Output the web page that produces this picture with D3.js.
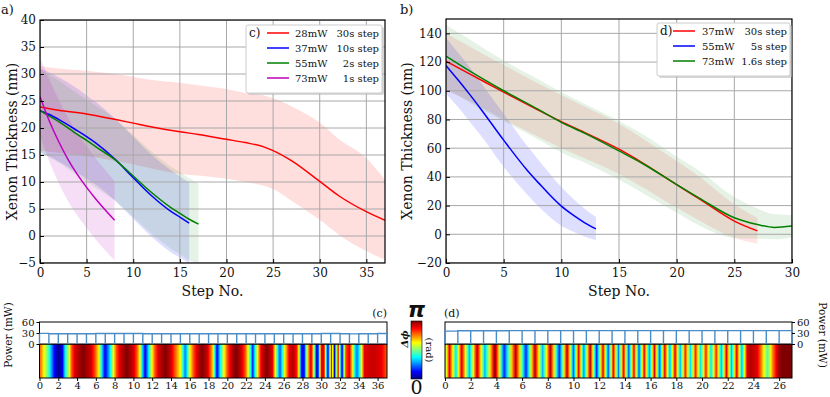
<!DOCTYPE html>
<html>
<head>
<meta charset="utf-8">
<script src="https://cdn.jsdelivr.net/npm/d3@7"></script>
<style>
  body { margin: 0; background: #fff; }
  text { font-family: "DejaVu Serif", serif; fill: #111; }
</style>
</head>
<body>
<svg width="830" height="397"></svg>
<script>
// ---------- panel a) data ----------
var aRedX = [0, 2, 5, 8, 10, 12, 15, 17, 20, 22, 24, 25, 27, 30, 32, 35, 37];
var aRedY = [23.9, 23.3, 22.6, 21.6, 20.9, 20.2, 19.3, 18.8, 17.9, 17.3, 16.5, 15.8, 13.9, 10.1, 7.5, 4.5, 2.9];
var aRedHi = [31.5, 31.0, 30.6, 30.0, 29.5, 28.9, 28.4, 27.9, 27.2, 26.5, 26.0, 25.5, 24.0, 21.0, 18.0, 14.4, 10.4];
var aRedLo = [15.8, 15.4, 14.8, 13.9, 13.3, 12.5, 11.5, 11.2, 10.6, 10.0, 9.3, 8.7, 6.5, 3.0, 0.3, -2.8, -4.4];

var aBlueX = [0, 1, 2, 4, 5, 6, 8, 10, 12, 14, 15, 16];
var aBlueY = [23.2, 22.5, 21.6, 19.5, 18.4, 17.2, 14.3, 10.8, 7.4, 4.6, 3.5, 2.4];
var aBlueHi = [31.0, 30.3, 29.4, 27.3, 26.0, 24.8, 21.8, 18.4, 15.0, 12.2, 11.0, 9.9];
var aBlueLo = [15.4, 14.7, 13.8, 11.7, 10.6, 9.5, 6.6, 3.2, -0.2, -3.0, -4.0, -5.0];

var aGreenX = [0, 1, 2, 4, 5, 6, 8, 10, 12, 14, 15, 16, 17];
var aGreenY = [23.2, 22.2, 21.2, 18.8, 17.7, 16.5, 14.2, 11.1, 8.0, 5.3, 4.2, 3.1, 2.2];
var aGreenHi = [30.8, 29.8, 28.8, 26.4, 25.3, 24.1, 21.8, 18.7, 15.6, 12.9, 11.8, 10.7, 9.7];
var aGreenLo = [15.6, 14.6, 13.6, 11.2, 10.1, 8.9, 6.6, 3.5, 0.4, -2.3, -3.4, -4.5, -5.0];

var aMagX = [0, 1, 2, 3, 4, 5, 6, 7, 8];
var aMagY = [25.8, 21.3, 17.5, 14.2, 11.4, 9.0, 6.8, 4.8, 2.9];
var aMagHi = [33.0, 29.0, 25.3, 22.0, 19.0, 16.6, 14.3, 12.2, 10.2];
var aMagLo = [18.5, 13.8, 9.8, 6.5, 3.8, 1.5, -0.7, -2.7, -4.5];

var aPowerLabels = ['28mW', '37mW', '55mW', '73mW'];
var aStepLabels = ['30s step', '10s step', '2s step', '1s step'];
var aXTicks = [0, 5, 10, 15, 20, 25, 30, 35];
var aYTicks = [-5, 0, 5, 10, 15, 20, 25, 30, 35, 40];

// ---------- panel b) data ----------
var bRedX = [0, 2, 5, 8, 10, 12, 15, 17, 20, 22, 25, 27];
var bRedY = [120.6, 112, 99, 86.5, 78.4, 71, 59.3, 50, 34.6, 24.5, 9.2, 2.4];
var bRedHi = [140, 131, 118, 105, 97, 89, 77, 67, 51, 40, 21, 11.5];
var bRedLo = [100, 93, 80, 68, 60, 53, 42, 33, 18.5, 9.5, -2.5, -6.5];

var bBlueX = [0, 1, 2, 3, 5, 7, 8, 10, 11, 12, 13];
var bBlueY = [117.6, 108, 98, 87.5, 65.6, 45, 36, 19.6, 13.5, 8.2, 3.8];
var bBlueHi = [137, 127, 117, 106, 84, 62, 52, 33, 25, 18, 12];
var bBlueLo = [98, 89, 79, 69, 47, 28, 19.5, 6, 2, -1.5, -4];

var bGreenX = [0, 2, 5, 8, 10, 12, 15, 17, 20, 22, 25, 27, 28.5, 30];
var bGreenY = [124.1, 114, 100, 87, 78, 70.5, 58.1, 49.5, 34.6, 25, 11.5, 6.8, 4.8, 5.7];
var bGreenHi = [146, 136, 121, 108, 99, 91, 79, 70, 54, 44, 26, 18, 14, 13.5];
var bGreenLo = [102, 92, 79, 66, 57, 50, 38, 29, 15, 6, -2.5, -3, -3.5, -2];

var bPowerLabels = ['37mW', '55mW', '73mW'];
var bStepLabels = ['30s step', '5s step', '1.6s step'];
var bXTicks = [0, 5, 10, 15, 20, 25, 30];
var bYTicks = [-20, 0, 20, 40, 60, 80, 100, 120, 140];

// ---------- panel (c) / (d) strips ----------
var cPower = [29, 28, 28, 28, 28, 28, 28.5, 28.5, 28.5, 28.5, 28.5, 28, 28, 28, 28, 28, 28, 28, 28, 28,
              28, 28, 28, 28, 28, 28, 28, 28, 28, 28, 28.5, 28.5, 28, 27.5, 28, 28, 28.5];
var dPower = [35, 36, 36, 36, 36, 36.5, 36.5, 36.5, 36.5, 36.5, 36.5, 36.5, 36.5, 36.5,
              36.5, 36.5, 36.5, 36.5, 36.5, 36.5, 36.5, 36.5, 36.5, 36.5, 36.5, 36.5, 36.5];
var powerTicks = [0, 30, 60];
var cXTicks = [0, 2, 4, 6, 8, 10, 12, 14, 16, 18, 20, 22, 24, 26, 28, 30, 32, 34, 36];
var dXTicks = [0, 2, 4, 6, 8, 10, 12, 14, 16, 18, 20, 22, 24, 26];

// phase (in units of pi) read along the step axis
var cPhaseStep = [0, 0.4, 0.94, 1.6, 2.0, 2.4, 2.7, 3.07, 3.43, 3.8, 4.67, 5.5, 5.9, 6.27, 6.6, 6.98, 7.5, 7.87,
  8.2, 8.6, 9.3, 10.0, 10.36, 10.7, 10.9, 11.25, 11.6, 11.96, 12.3, 12.7, 13.4, 14.0, 14.4, 15.0, 15.3, 15.5,
  15.7, 16.0, 16.4, 16.8, 17.3, 17.9, 18.4, 18.7, 18.9, 19.2, 19.6, 20.0, 20.5, 21.0, 21.5, 21.9, 22.2, 22.5,
  22.7, 22.9, 23.2, 23.6, 24.2, 24.8, 25.1, 25.4, 25.6, 25.8, 26.1, 26.6, 27.0, 27.4, 27.6, 27.9, 28.2, 28.5,
  28.9, 29.2, 29.5, 29.7, 30.0, 30.3, 30.7, 31.1, 31.4, 31.8, 32.2, 32.6, 33.0, 33.3, 33.6, 33.8, 34.0, 34.3,
  34.6, 35.5, 36.4, 37.0];
var cPhaseVal = [0.8, 0.65, 0.45, 0.12, 0.02, 0.08, 0.35, 0.55, 0.8, 0.92, 1.0, 0.92, 0.8, 0.65, 0.38, 0.1, 0.35, 0.62,
  0.8, 0.92, 1.0, 0.92, 0.8, 0.62, 0.38, 0.1, 0.35, 0.62, 0.8, 0.92, 1.0, 0.92, 0.8, 0.62, 0.38, 0.25,
  0.35, 0.62, 0.8, 0.92, 1.0, 0.92, 0.7, 0.35, 0.1, 0.35, 0.6, 0.8, 0.95, 1.0, 0.92, 0.8, 0.62, 0.38,
  0.15, 0.35, 0.62, 0.9, 1.0, 0.9, 0.62, 0.35, 0.2, 0.35, 0.62, 0.9, 0.95, 0.85, 0.62, 0.1, 0.15, 0.62,
  0.92, 0.62, 0.08, 0.2, 0.9, 0.9, 0.05, 0.9, 0.05, 0.9, 0.05, 0.8, 0.9, 0.65, 0.35, 0.25, 0.35, 0.62,
  0.9, 0.93, 0.9, 0.78];

var dPhaseStep = [0, 0.35, 0.85, 1.3, 1.9, 2.5, 3.1, 3.9, 4.6, 5.5, 6.3, 7.0, 7.6, 8.2, 8.9, 9.5, 10.0, 10.4,
  10.8, 11.3, 11.8, 12.3, 12.7, 13.1, 13.5, 13.9, 14.3, 14.7, 15.1, 15.5, 15.9, 16.3, 16.7, 17.1, 17.5, 17.9,
  18.3, 18.7, 19.1, 19.5, 19.9, 20.3, 20.7, 21.1, 21.5, 21.9, 22.3, 22.7, 23.1, 23.5, 23.75, 24.3, 24.6, 25.1,
  25.5, 25.9, 26.2, 27.0];
var dPhaseVal = [0.45, 0.9, 0.35, 0.92, 0.3, 0.95, 0.3, 1.0, 0.15, 0.95, 0.15, 0.95, 0.3, 0.95, 0.15, 0.95, 0.2, 0.9,
  0.25, 0.95, 0.15, 0.9, 0.2, 0.9, 0.25, 0.9, 0.2, 0.9, 0.2, 0.9, 0.25, 0.9, 0.2, 0.9, 0.3, 0.9,
  0.3, 0.85, 0.35, 0.85, 0.35, 0.85, 0.35, 0.85, 0.3, 0.9, 0.3, 0.9, 0.3, 0.9, 0.95, 0.9, 0.75, 0.45,
  0.75, 0.95, 1.0, 1.0];

// ---------- drawing ----------
var svg = d3.select('svg');
var defs = svg.append('defs');

var jet = d3.scaleLinear()
  .domain([0, 0.125, 0.375, 0.625, 0.875, 1])
  .range(['#00007f', '#0000ff', '#00ffff', '#ffff00', '#ff0000', '#7f0000'])
  .clamp(true);

function mainPanel(p) {
  var x = d3.scaleLinear().domain(p.xDomain).range([p.left, p.right]);
  var y = d3.scaleLinear().domain(p.yDomain).range([p.bottom, p.top]);
  var g = svg.append('g');

  defs.append('clipPath').attr('id', p.id + '-clip')
    .append('rect').attr('x', p.left).attr('y', p.top)
    .attr('width', p.right - p.left).attr('height', p.bottom - p.top);
  var plot = g.append('g').attr('clip-path', 'url(#' + p.id + '-clip)');

  // spread bands
  p.series.forEach(function(s) {
    var area = d3.area()
      .x(function(d, i) { return x(s.x[i]); })
      .y0(function(d, i) { return y(s.lo[i]); })
      .y1(function(d, i) { return y(s.hi[i]); })
      .curve(d3.curveMonotoneX);
    plot.append('path').datum(s.x).attr('d', area)
      .attr('fill', s.color).attr('fill-opacity', s.alpha);
  });

  // grid
  plot.selectAll('.gx').data(p.xTicks).enter().append('line')
    .attr('x1', x).attr('x2', x).attr('y1', p.top).attr('y2', p.bottom)
    .attr('stroke', '#a8a8a8').attr('stroke-width', 1);
  plot.selectAll('.gy').data(p.yTicks).enter().append('line')
    .attr('y1', y).attr('y2', y).attr('x1', p.left).attr('x2', p.right)
    .attr('stroke', '#a8a8a8').attr('stroke-width', 1);

  // mean lines
  p.series.forEach(function(s) {
    var line = d3.line()
      .x(function(d, i) { return x(s.x[i]); })
      .y(function(d) { return y(d); })
      .curve(d3.curveMonotoneX);
    plot.append('path').datum(s.y).attr('d', line)
      .attr('fill', 'none').attr('stroke', s.color).attr('stroke-width', 1.5);
  });

  // axes
  var xa = g.append('g').attr('transform', 'translate(0,' + p.bottom + ')')
    .call(d3.axisBottom(x).tickValues(p.xTicks).tickSize(-4).tickPadding(5).tickFormat(d3.format('d')));
  var ya = g.append('g').attr('transform', 'translate(' + p.left + ',0)')
    .call(d3.axisLeft(y).tickValues(p.yTicks).tickSize(-4).tickPadding(4).tickFormat(d3.format('d')));
  [xa, ya].forEach(function(a) {
    a.select('.domain').remove();
    a.selectAll('text').style('font-family', '"DejaVu Serif", serif').style('font-size', '12px').attr('fill', '#111');
  });

  g.append('rect').attr('x', p.left).attr('y', p.top)
    .attr('width', p.right - p.left).attr('height', p.bottom - p.top)
    .attr('fill', 'none').attr('stroke', '#000').attr('stroke-width', 1.2);

  g.append('text').attr('transform', 'translate(' + p.ylabX + ',' + ((p.top + p.bottom) / 2) + ') rotate(-90)')
    .attr('text-anchor', 'middle').attr('dy', '0.35em').style('font-size', '14px').text('Xenon Thickness (nm)');
  g.append('text').attr('x', (p.left + p.right) / 2).attr('y', 296)
    .attr('text-anchor', 'middle').style('font-size', '14px').text('Step No.');
  g.append('text').attr('x', p.tagX).attr('y', 14).style('font-size', '13px').text(p.tag);

  // legend
  var lg = g.append('g').attr('transform', 'translate(' + p.leg.x + ',' + p.leg.y + ')');
  var lh = 8 + p.series.length * 15;
  lg.append('rect').attr('x', 2).attr('y', 2).attr('width', p.leg.w).attr('height', lh)
    .attr('rx', 2).attr('fill', '#bbb').attr('opacity', 0.6);
  lg.append('rect').attr('width', p.leg.w).attr('height', lh).attr('rx', 2)
    .attr('fill', '#fff').attr('stroke', '#ccc');
  lg.append('text').attr('x', 3).attr('y', 12).style('font-size', '12px').text(p.leg.tag);
  p.series.forEach(function(s, i) {
    var yy = 8 + i * 15;
    lg.append('line').attr('x1', p.leg.lx).attr('x2', p.leg.lx + 22).attr('y1', yy).attr('y2', yy)
      .attr('stroke', s.color).attr('stroke-width', 1.5);
    lg.append('text').attr('x', p.leg.tx).attr('y', yy + 4).style('font-size', '10px').text(s.power);
    lg.append('text').attr('x', p.leg.w - 3).attr('y', yy + 4).attr('text-anchor', 'end')
      .style('font-size', '10px').text(s.step);
  });
}

mainPanel({
  id: 'a', left: 40, right: 385, top: 20, bottom: 263,
  xDomain: [0, 37], yDomain: [-5, 40], xTicks: aXTicks, yTicks: aYTicks,
  ylabX: 12, tag: 'a)', tagX: 1,
  leg: { x: 246, y: 25, w: 136, tag: 'c)', lx: 21, tx: 49 },
  series: [
    { x: aRedX, y: aRedY, hi: aRedHi, lo: aRedLo, color: '#ff0000', alpha: 0.13, power: aPowerLabels[0], step: aStepLabels[0] },
    { x: aBlueX, y: aBlueY, hi: aBlueHi, lo: aBlueLo, color: '#0000ff', alpha: 0.13, power: aPowerLabels[1], step: aStepLabels[1] },
    { x: aGreenX, y: aGreenY, hi: aGreenHi, lo: aGreenLo, color: '#008000', alpha: 0.1, power: aPowerLabels[2], step: aStepLabels[2] },
    { x: aMagX, y: aMagY, hi: aMagHi, lo: aMagLo, color: '#bf00bf', alpha: 0.13, power: aPowerLabels[3], step: aStepLabels[3] }
  ]
});

mainPanel({
  id: 'b', left: 446, right: 792, top: 19, bottom: 263,
  xDomain: [0, 30], yDomain: [-20, 150], xTicks: bXTicks, yTicks: bYTicks,
  ylabX: 407, tag: 'b)', tagX: 400,
  leg: { x: 657, y: 23, w: 133, tag: 'd)', lx: 16, tx: 45 },
  series: [
    { x: bRedX, y: bRedY, hi: bRedHi, lo: bRedLo, color: '#ff0000', alpha: 0.1, power: bPowerLabels[0], step: bStepLabels[0] },
    { x: bBlueX, y: bBlueY, hi: bBlueHi, lo: bBlueLo, color: '#0000ff', alpha: 0.13, power: bPowerLabels[1], step: bStepLabels[1] },
    { x: bGreenX, y: bGreenY, hi: bGreenHi, lo: bGreenLo, color: '#008000', alpha: 0.1, power: bPowerLabels[2], step: bStepLabels[2] }
  ]
});

function stripPanel(p) {
  var x = d3.scaleLinear().domain([0, p.xMax]).range([p.left, p.right]);
  var yP = d3.scaleLinear().domain([0, 60]).range([344, 322]);
  var g = svg.append('g');

  // phase gradient
  var grad = defs.append('linearGradient').attr('id', p.id + '-grad')
    .attr('gradientUnits', 'userSpaceOnUse')
    .attr('x1', x(0)).attr('x2', x(p.xMax)).attr('y1', 0).attr('y2', 0);
  var w = x(p.xMax) - x(0);
  for (var i = 0; i < p.steps.length - 1; i++) {
    for (var k = 0; k < 6; k++) {
      var t = k / 6;
      var s = p.steps[i] + (p.steps[i + 1] - p.steps[i]) * t;
      var v = p.vals[i] + (p.vals[i + 1] - p.vals[i]) * t;
      grad.append('stop').attr('offset', (x(s) - x(0)) / w).attr('stop-color', jet(v));
    }
  }
  grad.append('stop').attr('offset', 1).attr('stop-color', jet(p.vals[p.vals.length - 1]));

  g.append('rect').attr('x', p.left).attr('y', 344).attr('width', p.right - p.left).attr('height', 34)
    .attr('fill', 'url(#' + p.id + '-grad)').attr('stroke', '#000').attr('stroke-width', 1);

  // power steps
  var path = d3.path();
  p.power.forEach(function(pw, i) {
    path.moveTo(x(i), yP(0));
    path.lineTo(x(i), yP(pw));
    path.lineTo(x(i + 1), yP(pw));
    path.lineTo(x(i + 1), yP(0));
  });
  g.append('rect').attr('x', p.left).attr('y', 322).attr('width', p.right - p.left).attr('height', 22)
    .attr('fill', '#fff').attr('stroke', '#000').attr('stroke-width', 1);
  g.append('path').attr('d', path.toString()).attr('fill', 'none')
    .attr('stroke', '#4a8cc7').attr('stroke-width', 1.4);

  var xa = g.append('g').attr('transform', 'translate(0,378)')
    .call(d3.axisBottom(x).tickValues(p.xTicks).tickSize(3).tickPadding(1));
  var pa = g.append('g').attr('transform', 'translate(' + (p.side === 'left' ? p.left : p.right) + ',0)')
    .call((p.side === 'left' ? d3.axisLeft(yP) : d3.axisRight(yP)).tickValues(powerTicks).tickSize(3).tickPadding(2));
  [xa, pa].forEach(function(a) {
    a.select('.domain').remove();
    a.selectAll('text').style('font-family', '"DejaVu Serif", serif').attr('fill', '#111');
  });
  xa.selectAll('text').style('font-size', '10px');
  pa.selectAll('text').style('font-size', '10px');

  g.append('text').attr('x', p.tagX).attr('y', 317).attr('text-anchor', p.tagAnchor)
    .style('font-size', '11px').text(p.tag);
  var rot = p.side === 'left' ? -90 : 90;
  g.append('text').attr('transform', 'translate(' + p.powX + ',335) rotate(' + rot + ')')
    .attr('text-anchor', 'middle').attr('dy', '0.35em').style('font-size', '10.5px').text('Power (mW)');
}

stripPanel({ id: 'c', left: 39.5, right: 387, xMax: 37, power: cPower, steps: cPhaseStep, vals: cPhaseVal,
  xTicks: cXTicks, side: 'left', tag: '(c)', tagX: 387, tagAnchor: 'end', powX: 8 });
stripPanel({ id: 'd', left: 445, right: 792, xMax: 27, power: dPower, steps: dPhaseStep, vals: dPhaseVal,
  xTicks: dXTicks, side: 'right', tag: '(d)', tagX: 444, tagAnchor: 'start', powX: 823 });

// colorbar
var cb = defs.append('linearGradient').attr('id', 'cb-grad').attr('x1', 0).attr('x2', 0).attr('y1', 1).attr('y2', 0);
jet.domain().forEach(function(d) { cb.append('stop').attr('offset', d).attr('stop-color', jet(d)); });
svg.append('rect').attr('x', 411).attr('y', 321).attr('width', 11).attr('height', 58)
  .attr('fill', 'url(#cb-grad)').attr('stroke', '#000').attr('stroke-width', 0.6);
svg.append('text').attr('x', 416.5).attr('y', 317).attr('text-anchor', 'middle')
  .style('font-family', '"DejaVu Sans", sans-serif').style('font-style', 'italic').style('font-weight', 'bold')
  .style('font-size', '22px').text('π');
svg.append('text').attr('x', 416.5).attr('y', 394).attr('text-anchor', 'middle').style('font-size', '19px').text('0');
svg.append('text').attr('transform', 'translate(404,339) rotate(-90)').attr('text-anchor', 'middle')
  .attr('dy', '0.35em').style('font-size', '10px').style('font-style', 'italic').style('font-weight', 'bold').text('Δϕ');
svg.append('text').attr('transform', 'translate(429,350) rotate(90)').attr('text-anchor', 'middle')
  .attr('dy', '0.35em').style('font-size', '10px').text('(rad)');
</script>
</body>
</html>
